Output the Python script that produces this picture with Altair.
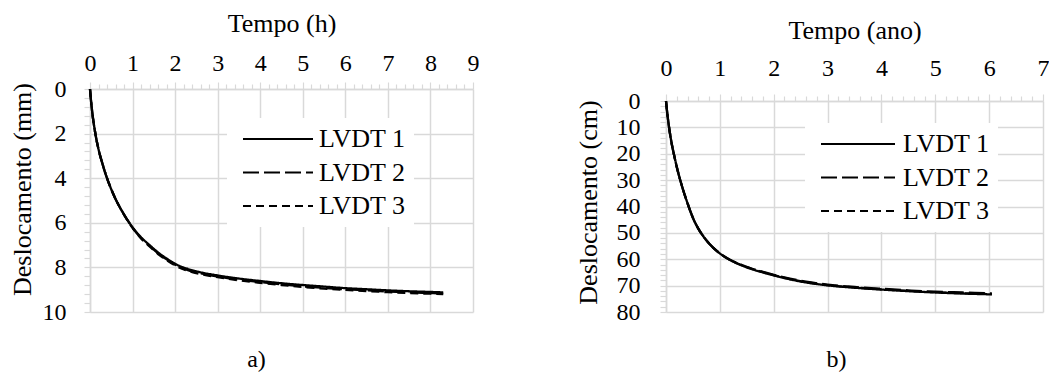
import altair as alt
import pandas as pd

FONT = "Liberation Serif"
GRAY = "#d9d9d9"

series = ["LVDT 1", "LVDT 2", "LVDT 3"]
dashes = [[1, 0], [16, 5], [8, 5]]

# Panel a) : time in hours, displacement in mm
t_h = [0, 0.02, 0.05, 0.1, 0.15, 0.2, 0.3, 0.4, 0.5, 0.6, 0.7, 0.8, 0.9, 1.0, 1.2, 1.4,
       1.6, 1.8, 2.0, 2.3, 2.6, 3.0, 3.5, 4.0, 4.5, 5.0, 5.5, 6.0, 6.5, 7.0, 7.5, 8.0, 8.3]
lvdt1_mm = [0, 0.45, 1.0, 1.7, 2.25, 2.7, 3.4, 4.0, 4.5, 4.93, 5.3, 5.63, 5.93, 6.2, 6.65, 7.0,
            7.33, 7.6, 7.84, 8.07, 8.22, 8.36, 8.5, 8.61, 8.71, 8.79, 8.86, 8.93, 8.98, 9.03, 9.07, 9.1, 9.12]
lvdt2_mm = [0, 0.45, 1.0, 1.7, 2.25, 2.7, 3.4, 4.0, 4.5, 4.93, 5.3, 5.63, 5.94, 6.22, 6.68, 7.03,
            7.37, 7.64, 7.88, 8.12, 8.27, 8.41, 8.55, 8.66, 8.76, 8.85, 8.92, 8.98, 9.03, 9.08, 9.12, 9.15, 9.17]
lvdt3_mm = [0, 0.45, 1.0, 1.7, 2.25, 2.7, 3.4, 4.0, 4.5, 4.93, 5.3, 5.64, 5.95, 6.23, 6.7, 7.06,
            7.4, 7.67, 7.91, 8.15, 8.3, 8.44, 8.58, 8.69, 8.79, 8.88, 8.95, 9.01, 9.06, 9.11, 9.15, 9.18, 9.2]

# Panel b) : time in years, displacement in cm
t_ano = [0, 0.02, 0.05, 0.1, 0.15, 0.2, 0.3, 0.4, 0.5, 0.6, 0.7, 0.8, 1.0, 1.2, 1.4, 1.6,
         1.8, 2.0, 2.3, 2.6, 3.0, 3.5, 4.0, 4.5, 5.0, 5.5, 6.0, 6.05]
lvdt1_cm = [0, 4, 9, 15.5, 20.5, 25, 32.5, 38.8, 44.3, 48.4, 51.5, 54, 57.8, 60.4, 62.3, 63.8,
            65, 66.1, 67.6, 68.8, 69.9, 70.8, 71.5, 72.1, 72.6, 73.0, 73.3, 73.33]
lvdt2_cm = [0, 4, 9, 15.5, 20.5, 25, 32.5, 38.8, 44.3, 48.4, 51.5, 54, 57.7, 60.3, 62.1, 63.6,
            64.8, 65.9, 67.3, 68.5, 69.6, 70.5, 71.2, 71.8, 72.3, 72.6, 72.9, 72.93]
lvdt3_cm = [0, 4, 9, 15.5, 20.5, 25, 32.5, 38.8, 44.3, 48.4, 51.5, 54, 57.8, 60.4, 62.2, 63.7,
            64.9, 66.0, 67.5, 68.7, 69.8, 70.7, 71.4, 72.0, 72.5, 72.9, 73.2, 73.23]


def long_df(t, cols):
    rows = []
    for name, vals in zip(series, cols):
        for ti, v in zip(t, vals):
            rows.append({"t": ti, "d": v, "s": name})
    return pd.DataFrame(rows)


def x_axis(title, maxv, title_pad, label_pad, offset):
    vals = [round(i * 0.2, 1) for i in range(int(round(maxv * 5)) + 1)]
    major = "abs(datum.value - round(datum.value)) < 1e-6"
    return alt.Axis(
        orient="top", title=title, values=vals, format=".0f", offset=offset,
        labelExpr=f"({major}) ? datum.label : ''",
        tickSize={"condition": {"test": major, "value": 7}, "value": 5},
        gridOpacity={"condition": {"test": major, "value": 1}, "value": 0},
        grid=True, gridColor=GRAY, gridWidth=1.5,
        domainColor=GRAY, domainWidth=1.5, tickColor=GRAY, tickWidth=1.2,
        labelFont=FONT, labelFontSize=24, labelColor="black", labelPadding=label_pad,
        labelOverlap=False, labelFlush=False,
        titleFont=FONT, titleFontSize=26, titleFontWeight="normal", titleColor="black",
        titlePadding=title_pad,
    )


def y_axis(title, maxv, minor, majorstep, title_pad, label_pad, title_y):
    vals = [round(i * minor, 1) for i in range(int(round(maxv / minor)) + 1)]
    major = f"abs(datum.value / {majorstep} - round(datum.value / {majorstep})) < 1e-6"
    return alt.Axis(
        orient="left", title=title, values=vals, format=".0f",
        labelExpr=f"({major}) ? datum.label : ''",
        tickSize=6,
        gridOpacity={"condition": {"test": major, "value": 1}, "value": 0},
        grid=True, gridColor=GRAY, gridWidth=1.5,
        domainColor=GRAY, domainWidth=1.5, tickColor=GRAY, tickWidth=1.2,
        labelFont=FONT, labelFontSize=24, labelColor="black", labelPadding=label_pad,
        labelOverlap=False, labelFlush=False,
        titleFont=FONT, titleFontSize=26, titleFontWeight="normal", titleColor="black",
        titlePadding=title_pad, titleY=title_y,
    )


def legend(x, y, path, label_offset, row_pad):
    return alt.Legend(
        title=None, orient="none", legendX=x, legendY=y,
        symbolType=path, symbolSize=100, symbolStrokeWidth=2.2,
        symbolStrokeColor="black", symbolFillColor="transparent",
        labelFont=FONT, labelFontSize=26, labelColor="black", labelOffset=label_offset,
        fillColor="white", padding=8, rowPadding=row_pad,
    )


def panel(df, xmax, ymax, xtitle, ytitle, yminor, ymajor, w, h, yscale, leg, sub, sub_dx,
          xt_pad, xl_pad, x_off, yt_pad, yl_pad, yt_y):
    return alt.Chart(df).mark_line(color="black", strokeWidth=2.3, interpolate="monotone").encode(
        x=alt.X("t:Q", scale=alt.Scale(domain=[0, xmax], nice=False, zero=False),
                axis=x_axis(xtitle, xmax, xt_pad, xl_pad, x_off)),
        y=alt.Y("d:Q", scale=yscale,
                axis=y_axis(ytitle, ymax, yminor, ymajor, yt_pad, yl_pad, yt_y)),
        strokeDash=alt.StrokeDash("s:N", sort=series,
                                  scale=alt.Scale(domain=series, range=dashes), legend=leg),
        detail="s:N",
    ).properties(
        width=w, height=h,
        title=alt.TitleParams(text=sub, orient="bottom", anchor="middle", frame="group",
                              dx=sub_dx, offset=24, font=FONT, fontSize=24,
                              fontWeight="normal", color="black"),
    )


left = panel(long_df(t_h, [lvdt1_mm, lvdt2_mm, lvdt3_mm]), 9, 10,
             "Tempo (h)", "Deslocamento (mm)", 0.4, 2, 383, 223,
             alt.Scale(domain=[0, 10], reverse=True, nice=False),
             legend(137, 29, "M-1,0H13", 58, 7.5), "a)", -25,
             15.5, 6.5, 0, 7, 18, 100)

# right plot sits 12 px lower than the left one inside an equally tall cell
right = panel(long_df(t_ano, [lvdt1_cm, lvdt2_cm, lvdt3_cm]), 7, 80,
              "Tempo (ano)", "Deslocamento (cm)", 2, 10, 377, 223,
              alt.Scale(domain=[0, 80], range=[12, 223], nice=False),
              legend(139, 34, "M-1,0H13.8", 64, 7.5), "b)", -18,
              13, 14, -12, 15, 20, 113)

chart = alt.concat(left, right, columns=2, spacing=96).properties(
    align="none",
    padding={"left": 1, "top": 2, "right": 0, "bottom": 0},
).resolve_scale(strokeDash="independent").configure_view(stroke=None)

chart.save("out.html", embed_options={"renderer": "svg", "actions": False})
